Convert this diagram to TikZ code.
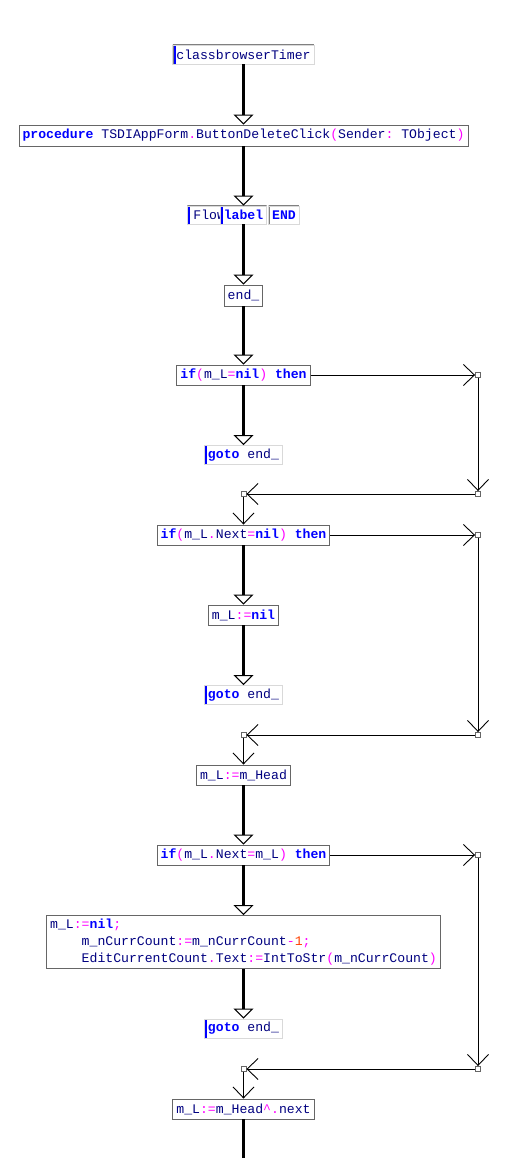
\documentclass[tikz,border=0pt]{standalone}
\usepackage{fontspec}
\setmonofont{Liberation Mono}
\usetikzlibrary{arrows.meta,positioning}
\definecolor{kwblue}{RGB}{0,0,255}
\definecolor{idnavy}{RGB}{0,0,128}
\definecolor{symmag}{RGB}{255,0,255}
\definecolor{numred}{RGB}{255,64,0}
\newcommand{\pkw}[1]{\textcolor{kwblue}{\textbf{#1}}}
\newcommand{\pid}[1]{\textcolor{idnavy}{#1}}
\newcommand{\psy}[1]{\textcolor{symmag}{#1}}
\newcommand{\pnum}[1]{\textcolor{numred}{#1}}
\tikzset{
    cbox/.style={draw=black!60, line width=0.9pt, fill=white, inner xsep=3.5pt, minimum height=20pt, font=\ttfamily\fontsize{13.15}{17}\selectfont},
    lbox/.style={draw=black!15, line width=0.9pt, fill=white, inner xsep=3.5pt, minimum height=18pt, font=\ttfamily\fontsize{13.15}{17}\selectfont,
        path picture={\draw[black!50, line width=1.8pt] (path picture bounding box.south west) |- (path picture bounding box.north east);}},
    bar/.style={path picture={\draw[black!50, line width=1.8pt] (path picture bounding box.south west) |- (path picture bounding box.north east);
        \fill[kwblue] ([xshift=0.9pt]path picture bounding box.north west) rectangle ([xshift=2.9pt]path picture bounding box.south west);}},
    trunk/.style={line width=3.8pt, -{Triangle[open, length=10pt, width=20pt, line width=1pt]}},
    link/.style={line width=0.9pt, -{Straight Barb[length=11pt, width=21pt, line width=0.9pt]}},
    jct/.style={draw=black!60, fill=white, line width=0.9pt, minimum size=5pt, inner sep=0pt}
}
\begin{document}
\begin{tikzpicture}[x=1pt, y=-1pt]
\fill[white] (0,0) rectangle (527,1158);
\useasboundingbox (0,0) rectangle (527,1158);
\node[lbox, bar, minimum height=19pt] (timer) at (243.5,54.5) {\pid{classbrowserTimer}};
\node[cbox, minimum height=21pt] (proc) at (243.5,135.5) {\pkw{procedure} \pid{TSDIAppForm}\psy{.}\pid{ButtonDeleteClick}\psy{(}\pid{Sender}\psy{:} \pid{TObject}\psy{)}};
\node[lbox, bar, anchor=west] (flow) at (187,215) {\hspace*{2.5pt}\pid{Flow}};
\node[lbox, bar] (lbl) at (243.5,215) {\pkw{label}};
\node[lbox, right=1pt of lbl] (fend) {\pkw{END}};
\node[cbox, minimum height=21pt] (endl) at (243.5,295.5) {\pid{end\_}};
\node[cbox] (if1) at (243.5,375) {\pkw{if}\psy{(}\pid{m\_L}\psy{=}\pkw{nil}\psy{)} \pkw{then}};
\node[lbox, bar] (goto1) at (243.5,455) {\pkw{goto} \pid{end\_}};
\node[cbox] (if2) at (243.5,535) {\pkw{if}\psy{(}\pid{m\_L}\psy{.}\pid{Next}\psy{=}\pkw{nil}\psy{)} \pkw{then}};
\node[cbox] (nil2) at (243.5,615) {\pid{m\_L}\psy{:=}\pkw{nil}};
\node[lbox, bar] (goto2) at (243.5,695) {\pkw{goto} \pid{end\_}};
\node[cbox] (head) at (243.5,775) {\pid{m\_L}\psy{:=}\pid{m\_Head}};
\node[cbox] (if3) at (243.5,855) {\pkw{if}\psy{(}\pid{m\_L}\psy{.}\pid{Next}\psy{=}\pid{m\_L}\psy{)} \pkw{then}};
\node[cbox, align=left] (multi) at (243.5,942) {\pid{m\_L}\psy{:=}\pkw{nil}\psy{;}\\
    \phantom{mmmm}\pid{m\_nCurrCount}\psy{:=}\pid{m\_nCurrCount}\psy{-}\pnum{1}\psy{;}\\
    \phantom{mmmm}\pid{EditCurrentCount}\psy{.}\pid{Text}\psy{:=}\pid{IntToStr}\psy{(}\pid{m\_nCurrCount}\psy{)}};
\node[lbox, bar, minimum height=19pt] (goto3) at (243.5,1028.5) {\pkw{goto} \pid{end\_}};
\node[cbox] (next) at (243.5,1109) {\pid{m\_L}\psy{:=}\pid{m\_Head}\psy{\textasciicircum.}\pid{next}};
\coordinate (bot) at (243.5,1158);
\coordinate (rail) at (478,0);
\foreach \a/\b in {timer/proc, proc/lbl, lbl/endl, endl/if1, if1/goto1, if2/nil2, nil2/goto2, head/if3, if3/multi, multi/goto3}
    \draw[trunk] (\a) -- (\b);
\draw[trunk, -] (next) -- (bot);
\foreach \src/\dst/\yb in {if1/if2/494, if2/head/735, if3/next/1069}{
    \node[jct] (r\src) at (\src -| rail) {};
    \node[jct] (b\src) at (478,\yb) {};
    \node[jct] (l\src) at (243.5,\yb) {};
    \draw[link] (\src) -- (r\src);
    \draw[link] (r\src) -- (b\src);
    \draw[link] (b\src) -- (l\src);
    \draw[link] (l\src) -- (\dst);
}
\end{tikzpicture}
\end{document}
